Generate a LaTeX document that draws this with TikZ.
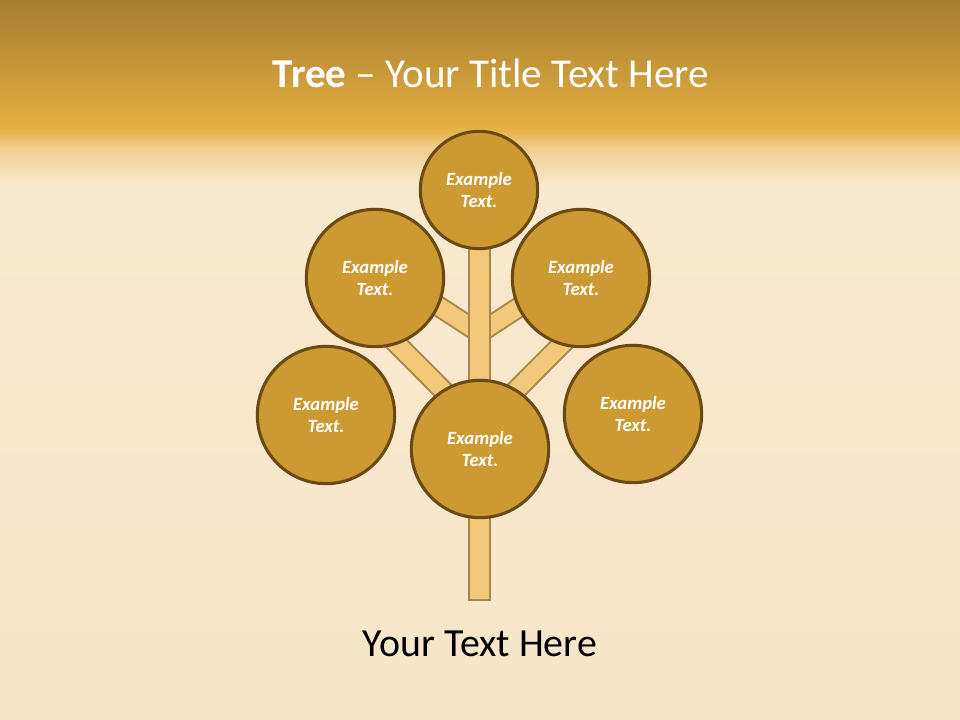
\documentclass[tikz,border=0pt]{standalone}
\usepackage{fontspec}
\setmainfont{Carlito}
\usetikzlibrary{calc}
\definecolor{leaffill}{RGB}{204,153,51}
\definecolor{leafline}{RGB}{106,74,18}
\definecolor{barkfill}{RGB}{242,201,122}
\definecolor{barkline}{RGB}{168,135,74}
\definecolor{goldtop}{RGB}{166,124,46}
\definecolor{goldlow}{RGB}{229,175,66}
\definecolor{goldfade}{RGB}{240,206,140}
\definecolor{woodhigh}{RGB}{249,233,206}
\definecolor{woodlight}{RGB}{252,240,222}
\definecolor{woodlow}{RGB}{248,230,202}
\tikzset{
    leaf/.style={
            circle,
            fill=leaffill,
            draw=leafline,
            line width=2.3pt,
            inner sep=0pt, % text stays centred
            minimum size={#1},
            align=center,
            text=white,
            font=\fontsize{14}{17}\selectfont\bfseries\itshape
        },
    leaf/.default={103pt}
}
\tikzset{
    branch/.style={
            draw=barkline,
            line width=1.5pt,
            double=barkfill,
            double distance=13pt
        }
}
\tikzset{
    trunk/.style={
            rectangle,
            draw=barkline,
            fill=barkfill,
            line width=1.5pt,
            inner sep=0pt
        }
}
\newcommand{\treecoord}{%
    \coordinate (crown) at (479,190);
    \coordinate (upl) at (375,278);
    \coordinate (upr) at (581,278);
    \coordinate (lowl) at (326,415);
    \coordinate (lowr) at (633,414);
    \coordinate (mid) at (480,449);
    %
    \coordinate (forkt) at (479.5,333);
    \coordinate (forkb) at (479.5,427);
    \coordinate (twigtl) at (380,268);
    \coordinate (twigtr) at (579,268);
    \coordinate (twigbl) at (387,334);
    \coordinate (twigbr) at (572,334);
}

\begin{document}
\begin{tikzpicture}[x=0.75pt, y=-0.75pt]
    \useasboundingbox (0,0) rectangle (960,720);
    \treecoord
    %
    % wood and title band
    \fill[woodlow] (0,0) rectangle (960,720);
    \shade[top color=goldtop, bottom color=goldlow] (0,0) rectangle (960,128);
    \shade[top color=goldlow, bottom color=goldfade] (0,128) rectangle (960,148);
    \shade[top color=goldfade, bottom color=woodhigh] (0,148) rectangle (960,185);
    \shade[top color=woodhigh, middle color=woodlight, bottom color=woodlow] (0,185) rectangle (960,720);
    %
    \draw[branch] (forkt) -- (twigtl);
    \draw[branch] (forkt) -- (twigtr);
    \draw[branch] (forkb) -- (twigbl);
    \draw[branch] (forkb) -- (twigbr);
    \node[trunk, minimum width=15.2pt, minimum height=270pt] (stem) at (479.5,420) {};
    %
    \node[leaf=88pt] (top) at (crown) {Example\\Text.};
    \node[leaf] (left) at (upl) {Example\\Text.};
    \node[leaf] (right) at (upr) {Example\\Text.};
    \node[leaf] (farl) at (lowl) {Example\\Text.};
    \node[leaf] (farr) at (lowr) {Example\\Text.};
    \node[leaf] (base) at (mid) {Example\\Text.};
    %
    \node[anchor=base, text=white, font=\fontsize{30.8}{36}\selectfont] (title) at (491,88) {\textbf{Tree} – Your Title Text Here};
    \node[anchor=base, text=black, font=\fontsize{29.9}{35}\selectfont] (caption) at (480,656) {Your Text Here};
\end{tikzpicture}
\end{document}
